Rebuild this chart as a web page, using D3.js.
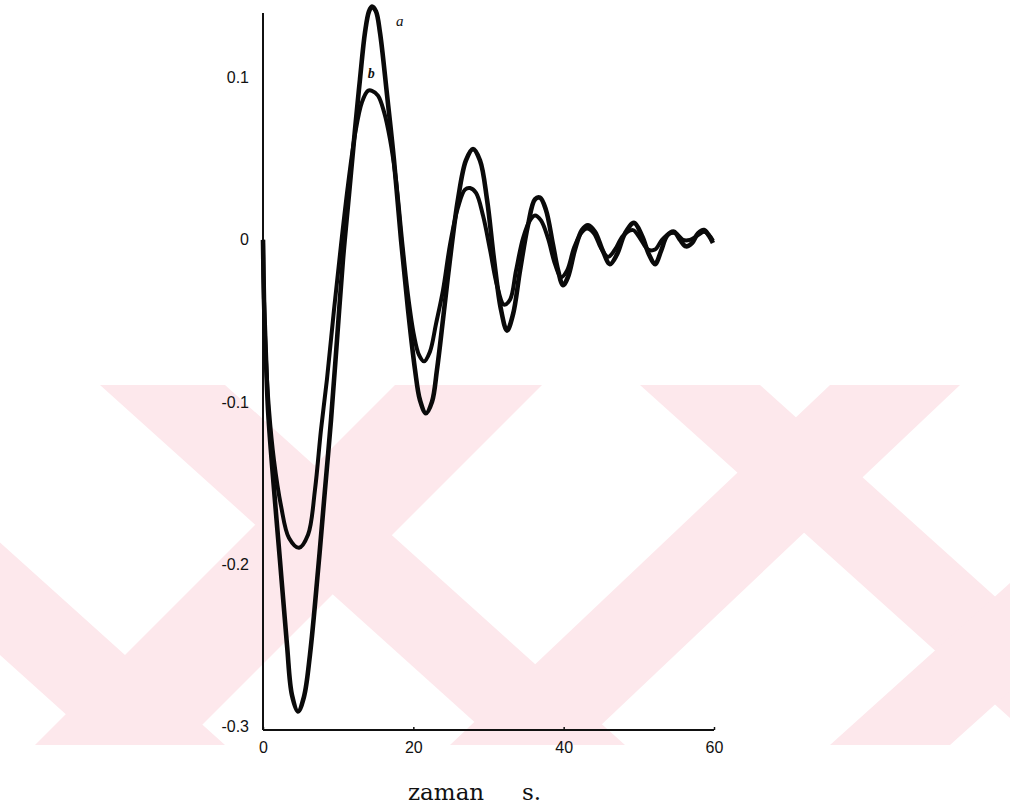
<!DOCTYPE html>
<html><head><meta charset="utf-8">
<script src="https://cdn.jsdelivr.net/npm/d3@7"></script>
<style>body{margin:0;background:#fff}svg{display:block}</style>
</head><body><svg id="c" width="1010" height="809"></svg>
<script>
// ---- data ----
const timeA = [0,0.13,0.40,0.67,1.2,2.26,3.19,3.86,4.66,5.45,6.25,7.32,8.25,9.05,9.84,10.64,11.44,12.24,12.9,13.57,14.1,14.5,15.03,15.56,16.5,17.43,18.36,19.29,20.22,20.89,21.68,22.48,23.15,23.95,24.88,25.94,27.0,27.94,28.87,29.8,30.73,31.66,32.46,33.26,34.19,35.25,36.18,36.85,37.64,38.58,39.24,39.91,40.57,41.5,42.43,43.24,44.16,45.23,46.16,47.09,48.16,49.36,50.42,51.35,52.15,52.95,53.75,54.68,55.48,56.27,57.07,57.87,58.67,59.33,59.86];
const seriesA = [0,-0.037,-0.074,-0.105,-0.139,-0.198,-0.25,-0.281,-0.291,-0.282,-0.256,-0.204,-0.154,-0.111,-0.062,-0.012,0.028,0.068,0.099,0.128,0.141,0.144,0.141,0.128,0.0895,0.049,0,-0.043,-0.080,-0.099,-0.107,-0.100,-0.080,-0.049,-0.012,0.025,0.049,0.056,0.049,0.025,-0.012,-0.043,-0.056,-0.046,-0.019,0.009,0.025,0.026,0.0185,-0.003,-0.0185,-0.028,-0.023,-0.006,0.006,0.009,0.005,-0.007,-0.015,-0.009,0.004,0.0105,0.0025,-0.009,-0.015,-0.007,0.0025,0.005,0,-0.004,-0.002,0.004,0.006,0.0025,-0.002];
const timeB = [0,0.13,0.40,0.8,1.46,2.39,3.46,4.79,5.99,6.92,7.72,8.51,9.45,10.38,11.31,12.24,13.17,13.97,14.5,15.3,16.1,16.9,17.69,18.49,19.29,20.09,20.75,21.42,22.21,23.01,23.95,24.88,25.94,26.87,27.54,28.34,29.27,30.2,31.13,32.06,32.86,33.66,34.59,35.52,36.18,36.98,37.91,38.85,39.64,40.44,41.37,42.3,43.1,44.03,44.96,45.9,46.83,47.89,49.22,50.15,51.22,52.15,53.08,54.14,54.94,55.87,56.8,57.74,58.67,59.33,59.86];
const seriesB = [0,-0.037,-0.074,-0.105,-0.136,-0.164,-0.184,-0.19,-0.182,-0.154,-0.117,-0.086,-0.043,-0.003,0.034,0.065,0.085,0.092,0.092,0.089,0.079,0.062,0.037,0,-0.034,-0.059,-0.071,-0.075,-0.069,-0.052,-0.031,-0.003,0.02,0.031,0.032,0.029,0.015,-0.006,-0.028,-0.040,-0.037,-0.019,0.001,0.012,0.015,0.012,0.001,-0.015,-0.023,-0.019,-0.005,0.004,0.007,0.004,-0.005,-0.0105,-0.006,0.0025,0.006,0.001,-0.006,-0.006,0,0.004,0.004,0,0,0.0025,0.005,0.003,-0.0006];
const xTickValues = [0,20,40,60];
const xTickLabels = ["0","20","40","60"];
const yTickValues = [0.1,0,-0.1,-0.2,-0.3];
const yTickLabels = ["0.1","0","-0.1","-0.2","-0.3"];
const seriesNames = ["a","b"];
const xTitle = ["zaman","s."];

// ---- drawing ----
const svg = d3.select("#c");
// background watermark (decorative)
const wm = svg.append("g").attr("fill","#fde8ec");
const y0w = 385, y1w = 745;
// parallelogram bands: [top-left x, top width, horizontal shift over the height]
[[-300,125,400],[100,125,400],[640,120,400],[395,147,-360],[830,130,-380],[1230,120,-400]].forEach(([x0,w,s])=>{
  wm.append("path").attr("d",`M${x0},${y0w}L${x0+w},${y0w}L${x0+w+s},${y1w}L${x0+s},${y1w}Z`);
});

const x = d3.scaleLinear().domain([0,60]).range([263,714]);
const y = d3.scaleLinear().domain([-0.3025,0.14]).range([730,13]);

// axes
svg.append("line").attr("x1",x(0)).attr("x2",x(0)).attr("y1",y(0.14)).attr("y2",y(-0.3025))
  .attr("stroke","#111").attr("stroke-width",2);
svg.append("line").attr("x1",x(0)).attr("x2",x(60)).attr("y1",y(-0.3025)).attr("y2",y(-0.3025))
  .attr("stroke","#111").attr("stroke-width",2);
const xa = svg.append("g").attr("transform",`translate(0,${y(-0.3025)})`)
  .call(d3.axisBottom(x).tickValues(xTickValues).tickFormat((d,i)=>xTickLabels[i]).tickSize(-3).tickPadding(12));
xa.select(".domain").remove();
xa.selectAll("text").attr("font-family","Liberation Sans, Arial, sans-serif").attr("font-size",16).attr("fill","#111");
xa.selectAll("line").attr("stroke","#111").attr("stroke-width",1.5);

const ya = svg.append("g").attr("transform",`translate(${x(0)},0)`)
  .call(d3.axisLeft(y).tickValues(yTickValues).tickFormat((d,i)=>yTickLabels[i]).tickSize(0).tickPadding(14));
ya.select(".domain").remove();
ya.selectAll("text").attr("font-family","Liberation Sans, Arial, sans-serif").attr("font-size",16).attr("fill","#111");

// curves
const line = d3.line().x(d=>x(d[0])).y(d=>y(d[1])).curve(d3.curveCatmullRom.alpha(0.5));
const dataA = timeA.map((t,i)=>[t,seriesA[i]]);
const dataB = timeB.map((t,i)=>[t,seriesB[i]]);
svg.append("path").datum(dataB).attr("d",line).attr("fill","none").attr("stroke","#0a0a0a").attr("stroke-width",4).attr("stroke-linejoin","round");
svg.append("path").datum(dataA).attr("d",line).attr("fill","none").attr("stroke","#0a0a0a").attr("stroke-width",4.6).attr("stroke-linejoin","round");

// series labels
svg.append("text").attr("x",x(17.7)).attr("y",y(0.132)).text(seriesNames[0])
  .attr("font-family","Liberation Serif, serif").attr("font-style","italic").attr("font-size",15).attr("fill","#111");
svg.append("text").attr("x",x(14.4)).attr("y",y(0.1)).attr("text-anchor","middle").text(seriesNames[1])
  .attr("font-family","Liberation Serif, serif").attr("font-style","italic").attr("font-weight","bold").attr("font-size",14).attr("fill","#111");

// x title
svg.append("text").attr("x",408).attr("y",800).text(xTitle[0])
  .attr("font-family","DejaVu Serif, serif").attr("font-size",23).attr("fill","#111");
svg.append("text").attr("x",522).attr("y",800).text(xTitle[1])
  .attr("font-family","DejaVu Serif, serif").attr("font-size",23).attr("fill","#111");
</script></body></html>
